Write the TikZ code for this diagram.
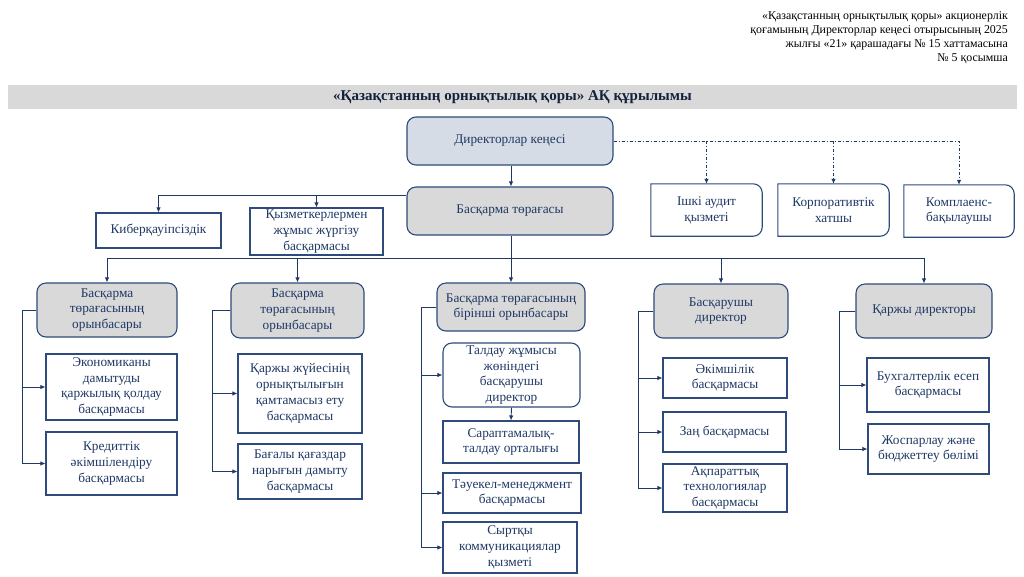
\documentclass[tikz,border=0pt]{standalone}
\usepackage{fontspec}
\setmainfont{Liberation Serif}
\usetikzlibrary{arrows.meta,calc}
\definecolor{navy}{HTML}{1F3864}
\definecolor{edge}{HTML}{2F4B7C}
\definecolor{greyfill}{HTML}{D9D9D9}
\definecolor{bluefill}{HTML}{D6DCE5}
\tikzset{
  box/.style={draw=edge, line width=1.1pt, text=navy, inner sep=0pt, align=center,
    font=\fontsize{13.3}{15.8}\selectfont},
  rbox/.style={box, rounded corners=9pt},
  gbox/.style={rbox, fill=greyfill},
  oneround/.style={text=navy, inner sep=0pt, align=center, font=\fontsize{13.3}{15.8}\selectfont},
  conn/.style={draw=navy, line width=0.9pt},
  arr/.style={conn, -{Latex[length=5pt,width=4.5pt]}},
  dd/.style={arr, dash pattern=on 3pt off 2pt on 1pt off 2pt},
}
\begin{document}
\begin{tikzpicture}[x=1pt,y=-1pt]
\useasboundingbox (0,0) rectangle (1024,576);
\fill[white] (0,0) rectangle (1024,576);

% header
\node[anchor=east, align=right, inner sep=0pt, font=\fontsize{11.9}{14}\selectfont] (hdr) at (1008,38)
 {«Қазақстанның орнықтылық қоры» акционерлік\\
  қоғамының Директорлар кеңесі отырысының 2025\\
  жылғы «21» қарашадағы № 15 хаттамасына\\
  № 5 қосымша};

% title bar
\node[fill=greyfill, minimum width=1009pt, minimum height=24pt, inner sep=0pt,
      font=\fontsize{15}{17}\selectfont\bfseries, text=navy!60!black] (title) at (512.5,97)
 {«Қазақстанның орнықтылық қоры» АҚ құрылымы};

% top level
\node[rbox, fill=bluefill, minimum width=206pt, minimum height=48pt] (dk) at (510,141) {Директорлар кеңесі};
\node[gbox, minimum width=206pt, minimum height=48pt] (bt) at (510,211) {Басқарма төрағасы};

\node[box, minimum width=125pt, minimum height=35pt] (kib) at (158.5,230.5) {Киберқауіпсіздік};
\node[box, minimum width=133pt, minimum height=47pt] (kyz) at (316.5,231.5) {Қызметкерлермен\\жұмыс жүргізу\\басқармасы};

% one-corner rounded boxes
\node[oneround, minimum width=111pt, minimum height=52pt] (aud) at (706.5,210) {Ішкі аудит\\қызметі};
\node[oneround, minimum width=111pt, minimum height=52pt] (corp) at (833.5,210) {Корпоративтік\\хатшы};
\node[oneround, minimum width=110pt, minimum height=52pt] (comp) at (959,211) {Комплаенс-\\бақылаушы};
\foreach \n in {aud,corp,comp}{
  \draw[draw=edge, line width=1.1pt] (\n.south west) -- (\n.north west)
     {[rounded corners=9pt] -- (\n.north east) -- (\n.south east)} -- cycle;
}

% second level
\node[gbox, minimum width=140pt, minimum height=54pt] (z1) at (107,310) {Басқарма\\төрағасының\\орынбасары};
\node[gbox, minimum width=133pt, minimum height=55pt] (z2) at (297.5,310.5) {Басқарма\\төрағасының\\орынбасары};
\node[gbox, minimum width=148pt, minimum height=48pt] (f1) at (511,307) {Басқарма төрағасының\\бірінші орынбасары};
\node[gbox, minimum width=134pt, minimum height=54pt] (bd) at (721,311) {Басқарушы\\директор};
\node[gbox, minimum width=136pt, minimum height=54pt] (qd) at (924,311) {Қаржы директоры};

% third level
\node[box, minimum width=131pt, minimum height=66pt] (e1) at (111.5,387) {Экономиканы\\дамытуды\\қаржылық қолдау\\басқармасы};
\node[box, minimum width=131pt, minimum height=63pt] (e2) at (111.5,463.5) {Кредиттік\\әкімшілендіру\\басқармасы};
\node[box, minimum width=124pt, minimum height=79pt] (q1) at (300,393.5) {Қаржы жүйесінің\\орнықтылығын\\қамтамасыз ету\\басқармасы};
\node[box, minimum width=124pt, minimum height=55pt] (q2) at (300,471.5) {Бағалы қағаздар\\нарығын дамыту\\басқармасы};
\node[rbox, minimum width=137pt, minimum height=64pt] (t1) at (511.5,375) {Талдау жұмысы\\жөніндегі\\басқарушы\\директор};
\node[box, minimum width=136pt, minimum height=42pt] (t2) at (511,442) {Сараптамалық-\\талдау орталығы};
\node[box, minimum width=138pt, minimum height=40pt] (t3) at (512,493) {Тәуекел-менеджмент\\басқармасы};
\node[box, minimum width=134pt, minimum height=51pt] (t4) at (510,547.5) {Сыртқы\\коммуникациялар\\қызметі};
\node[box, minimum width=124pt, minimum height=40pt] (a1) at (725,378) {Әкімшілік\\басқармасы};
\node[box, minimum width=123pt, minimum height=40pt] (a2) at (724.5,432) {Заң басқармасы};
\node[box, minimum width=124pt, minimum height=48pt] (a3) at (725,488) {Ақпараттық\\технологиялар\\басқармасы};
\node[box, minimum width=122pt, minimum height=54pt] (b1) at (928,385) {Бухгалтерлік есеп\\басқармасы};
\node[box, minimum width=121pt, minimum height=50pt] (b2) at (928.5,449) {Жоспарлау және\\бюджеттеу бөлімі};

% connectors: board
\draw[arr] (dk.south -| bt.north) ++(1,0) coordinate (dks) -- (dks |- bt.north);
\draw[dd] (dk.east) -| (comp.north);
\draw[dd] (dk.east -| aud.north) -- (aud.north);
\draw[dd] (dk.east -| corp.north) -- (corp.north);

% chairman staff
\coordinate (btl) at ($(bt.north west)+(0,9)$);
\draw[arr] (btl) -| (kib.north);
\draw[arr] (btl -| kyz.north) -- (kyz.north);

% chairman to deputies
\coordinate (hub) at ($(bt.south)+(1,23)$);
\draw[arr] ($(bt.south)+(1,0)$) -- (f1.north);
\draw[arr] (hub) -| (z1.north);
\draw[arr] (hub -| z2.north) -- (z2.north);
\draw[arr] (hub) -| (qd.north);
\draw[arr] (hub -| bd.north) -- (bd.north);

% deputy branches
\draw[arr] (z1.west) -- ++(-14,0) |- (e1.west);
\draw[arr] (z1.west) -- ++(-14,0) |- (e2.west);
\draw[arr] (z2.west) -- ++(-18,0) |- (q1.west);
\draw[arr] (z2.west) -- ++(-18,0) |- (q2.west);
\draw[arr] (f1.west) -- ++(-15,0) |- (t1.west);
\draw[arr] (f1.west) -- ++(-15,0) |- (t3.west);
\draw[arr] (f1.west) -- ++(-15,0) |- (t4.west);
\draw[arr] (t1.south) -- (t2.north);
\draw[arr] (bd.west) -- ++(-15,0) |- (a1.west);
\draw[arr] (bd.west) -- ++(-15,0) |- (a2.west);
\draw[arr] (bd.west) -- ++(-15,0) |- (a3.west);
\draw[arr] (qd.west) -- ++(-16,0) |- (b1.west);
\draw[arr] (qd.west) -- ++(-16,0) |- (b2.west);
\end{tikzpicture}
\end{document}
